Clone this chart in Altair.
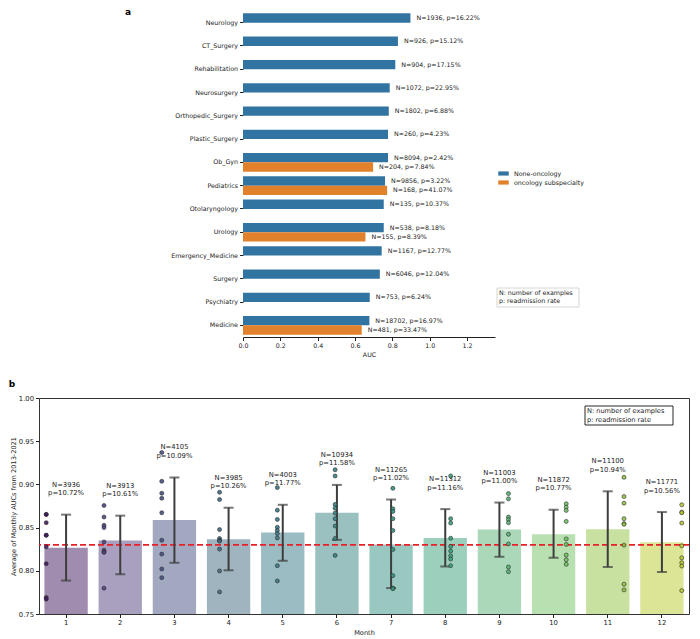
import altair as alt
import pandas as pd

# ---------------- Panel a data ----------------
specialties = ["Neurology", "CT_Surgery", "Rehabilitation", "Neurosurgery",
               "Orthopedic_Surgery", "Plastic_Surgery", "Ob_Gyn", "Pediatrics",
               "Otolaryngology", "Urology", "Emergency_Medicine", "Surgery",
               "Psychiatry", "Medicine"]
auc_non = [0.897, 0.830, 0.816, 0.786, 0.781, 0.777, 0.777, 0.761,
           0.754, 0.754, 0.743, 0.733, 0.679, 0.677]
n_non = [1936, 926, 904, 1072, 1802, 260, 8094, 9856, 135, 538, 1167, 6046, 753, 18702]
p_non = ["16.22", "15.12", "17.15", "22.95", "6.88", "4.23", "2.42", "3.22",
         "10.37", "8.18", "12.77", "12.04", "6.24", "16.97"]

onc_specialties = ["Ob_Gyn", "Pediatrics", "Urology", "Medicine"]
auc_onc = [0.697, 0.772, 0.656, 0.636]
n_onc = [204, 168, 155, 481]
p_onc = ["7.84", "41.07", "8.39", "33.47"]

groups = ["None-oncology", "oncology subspecialty"]
group_colors = ["#3274a1", "#e1812c"]

# ---------------- Panel b data ----------------
months = [1, 2, 3, 4, 5, 6, 7, 8, 9, 10, 11, 12]
month_auc = [0.8266, 0.835, 0.8587, 0.8366, 0.8443, 0.8672,
             0.8305, 0.838, 0.8477, 0.8423, 0.848, 0.8331]
err_lo = [0.7887, 0.796, 0.8093, 0.8006, 0.8116, 0.8358,
          0.780, 0.805, 0.8162, 0.815, 0.8044, 0.7986]
err_hi = [0.865, 0.8638, 0.908, 0.873, 0.8764, 0.8994,
          0.8825, 0.8714, 0.879, 0.8707, 0.892, 0.868]
n_month = [3936, 3913, 4105, 3985, 4003, 10934, 11265, 11312, 11003, 11872, 11100, 11771]
p_month = ["10.72", "10.61", "10.09", "10.26", "11.77", "11.58",
           "11.02", "11.16", "11.00", "10.77", "10.94", "10.56"]
overall_auc = 0.83

yearly_m1 = [0.8653, 0.8653, 0.8557, 0.8412, 0.8412, 0.8277, 0.8082, 0.7691, 0.7672]
yearly_m2 = [0.8756, 0.8622, 0.8526, 0.850, 0.8334, 0.8239, 0.822, 0.8213, 0.7799]
yearly_m3 = [0.9369, 0.9036, 0.8898, 0.884, 0.8672, 0.8354, 0.8193, 0.8021, 0.7921]
yearly_m4 = [0.8909, 0.8825, 0.8477, 0.8374, 0.8354, 0.8343, 0.8251, 0.7998, 0.7756]
yearly_m5 = [0.8963, 0.8702, 0.8595, 0.8503, 0.8466, 0.8431, 0.838, 0.8059, 0.7883]
yearly_m6 = [0.917, 0.9098, 0.8768, 0.8725, 0.8668, 0.8603, 0.8518, 0.8374, 0.8178]
yearly_m7 = [0.8955, 0.8718, 0.8687, 0.8603, 0.8466, 0.8247, 0.7944, 0.780, 0.7793]
yearly_m8 = [0.9098, 0.8603, 0.8553, 0.8377, 0.8282, 0.8228, 0.8174, 0.8136, 0.8059]
yearly_m9 = [0.8894, 0.8833, 0.8622, 0.8592, 0.8557, 0.8423, 0.8311, 0.8044, 0.799]
yearly_m10 = [0.8776, 0.8737, 0.8699, 0.8572, 0.8369, 0.8305, 0.8182, 0.8128, 0.8075]
yearly_m11 = [0.9082, 0.886, 0.8783, 0.8603, 0.8546, 0.8538, 0.8297, 0.7845, 0.7779]
yearly_m12 = [0.8764, 0.8679, 0.8672, 0.8553, 0.8289, 0.815, 0.8093, 0.8055, 0.7771]
yearly = [yearly_m1, yearly_m2, yearly_m3, yearly_m4, yearly_m5, yearly_m6,
          yearly_m7, yearly_m8, yearly_m9, yearly_m10, yearly_m11, yearly_m12]

bar_colors = ["#a08cae", "#a9a0c0", "#a2a8c0", "#a0b4c0", "#9cbcc4", "#9bc0c0",
              "#99c8c0", "#9cd0bc", "#aad8b8", "#b8e0b0", "#c8e0a0", "#dce496"]
point_colors = ["#41195d", "#534181", "#455181", "#416981", "#397989", "#378181",
                "#339181", "#39a179", "#55b171", "#71c161", "#91c141", "#b9c92d"]

FONT = "DejaVu Sans"
TXT = "#222222"

# ---------------- Panel a ----------------
rows = []
for s, a, n, p in zip(specialties, auc_non, n_non, p_non):
    rows.append({"specialty": s, "group": groups[0], "auc": a, "label": f"N={n}, p={p}%"})
for s, a, n, p in zip(onc_specialties, auc_onc, n_onc, p_onc):
    rows.append({"specialty": s, "group": groups[1], "auc": a, "label": f"N={n}, p={p}%"})
dfa = pd.DataFrame(rows)

LEFT_A = 204          # horizontal inset of panel a's plot inside its view
WA, HA = 456, 326

ya = alt.Y("specialty:N", sort=specialties,
           scale=alt.Scale(paddingInner=0.2, paddingOuter=0.1),
           axis=alt.Axis(title=None, labelFontSize=6.3, labelColor=TXT, tickSize=3.5,
                         tickColor="#222222", labelPadding=2, domain=False,
                         offset=-LEFT_A, minExtent=0))
yoa = alt.YOffset("group:N", sort=groups)
xa = alt.X("auc:Q", scale=alt.Scale(domain=[0, 1.35], nice=False, zero=True,
                                    range=[LEFT_A, WA]),
           axis=alt.Axis(title="AUC", values=[0, 0.2, 0.4, 0.6, 0.8, 1.0, 1.2], format=".1f",
                         grid=False, labelFontSize=6.3, labelColor=TXT, titleFontSize=6.3,
                         titleFontWeight="normal", titleColor=TXT, tickSize=3.5,
                         tickColor="#222222", domainColor="#222222", titlePadding=3,
                         labelFlush=False))

base_a = alt.Chart(dfa)
bars_a = base_a.mark_bar().encode(
    x=xa, y=ya, yOffset=yoa,
    color=alt.Color("group:N", scale=alt.Scale(domain=groups, range=group_colors),
                    legend=alt.Legend(title=None, orient="none", legendX=LEFT_A + 255,
                                      legendY=157,
                                      symbolType="M-1,-0.4H1V0.4H-1Z", symbolSize=110,
                                      symbolStrokeWidth=0, labelFontSize=6.3,
                                      labelColor=TXT, labelOffset=5, rowPadding=0)))
text_a = base_a.mark_text(align="left", baseline="middle", dx=6, fontSize=6.3,
                          color=TXT).encode(x=xa, y=ya, yOffset=yoa, text="label:N")

one = pd.DataFrame({"t": ["a"]})
label_a = alt.Chart(one).mark_text(fontSize=9, fontWeight="bold", color="#000000",
                                   align="center", baseline="middle").encode(
    x=alt.value(LEFT_A - 115), y=alt.value(1), text=alt.value("a"))
box_a = alt.Chart(one).mark_rect(fill="white", stroke="#cccccc", strokeWidth=0.8).encode(
    x=alt.value(LEFT_A + 254), x2=alt.value(LEFT_A + 336), y=alt.value(277), y2=alt.value(296))
boxtext_a = alt.Chart(one).mark_text(align="left", baseline="top", fontSize=6.3, color=TXT,
                                     lineBreak="\n", lineHeight=8.3).encode(
    x=alt.value(LEFT_A + 256), y=alt.value(279),
    text=alt.value("N: number of examples\n\u00a0p: readmission rate"))

panel_a = alt.layer(bars_a, text_a, box_a, boxtext_a, label_a).properties(
    width=WA, height=HA, view=alt.ViewBackground(strokeOpacity=0))

# ---------------- Panel b ----------------
dfb = pd.DataFrame({
    "month": months, "auc": month_auc, "lo": err_lo, "hi": err_hi,
    "label": [f"N={n}\np={p}%" for n, p in zip(n_month, p_month)],
})
prow = []
for m, vals in zip(months, yearly):
    for v in vals:
        prow.append({"month": m, "val": v})
dfp = pd.DataFrame(prow)

WB, HB = 650, 216

xb = alt.X("month:O", scale=alt.Scale(paddingInner=0.2, paddingOuter=0.1),
           axis=alt.Axis(title="Month", labelAngle=0, labelFontSize=6.8, labelColor=TXT,
                         titleFontSize=6.6, titleFontWeight="normal", titleColor=TXT,
                         tickSize=3.5, tickColor="#222222", domain=False, titlePadding=3))


def yb(field):
    return alt.Y(field, scale=alt.Scale(domain=[0.75, 1.0], nice=False, zero=False),
                 axis=alt.Axis(title="Average of Monthly AUCs from 2013-2021",
                               values=[0.75, 0.8, 0.85, 0.9, 0.95, 1.0], format=".2f",
                               grid=False, domain=False, labelFontSize=6.8, labelColor=TXT,
                               titleFontSize=6.6, titleFontWeight="normal", titleColor=TXT,
                               tickSize=3.5, tickColor="#222222", minExtent=20,
                               maxExtent=20, titlePadding=3))


base_b = alt.Chart(dfb)
bars_b = base_b.mark_bar(clip=True).encode(
    x=xb, y=yb("auc:Q"),
    color=alt.Color("month:O", scale=alt.Scale(domain=months, range=bar_colors), legend=None))
ref_line = alt.Chart(pd.DataFrame({"ref": [overall_auc]})).mark_rule(
    color="#e8202a", strokeDash=[6, 3], strokeWidth=1.6).encode(y=yb("ref:Q"))
err_rule = base_b.mark_rule(color="#3d3d3d", strokeWidth=2).encode(
    x=xb, y=yb("hi:Q"), y2="lo:Q")
cap_hi = base_b.mark_tick(color="#3d3d3d", size=10, thickness=2).encode(x=xb, y=yb("hi:Q"))
cap_lo = base_b.mark_tick(color="#3d3d3d", size=10, thickness=2).encode(x=xb, y=yb("lo:Q"))
text_b = base_b.mark_text(align="center", baseline="bottom", dy=-27, fontSize=6.8,
                          color=TXT, lineBreak="\n", lineHeight=8.5).encode(
    x=xb, y=yb("hi:Q"), text="label:N")

# yearly points, dodged by month inside the 0.8-wide band (12 slots)
points = alt.Chart(dfp).transform_calculate(
    xpos="datum.month + (datum.month - 6.5) * 0.8 / 12"
).mark_circle(size=16, stroke="#2b2b2b", strokeWidth=0.6, fillOpacity=0.9).encode(
    x=alt.X("xpos:Q", scale=alt.Scale(domain=[0.5, 12.5], nice=False, zero=False), axis=None),
    y=yb("val:Q"),
    fill=alt.Fill("month:O", scale=alt.Scale(domain=months, range=point_colors), legend=None))

box_b = alt.Chart(one).mark_rect(fill="white", stroke="#111111", strokeWidth=0.9).encode(
    x=alt.value(WB - 104), x2=alt.value(WB - 16), y=alt.value(8), y2=alt.value(27))
boxtext_b = alt.Chart(one).mark_text(align="left", baseline="top", fontSize=6.6, color=TXT,
                                     lineBreak="\n", lineHeight=8.5).encode(
    x=alt.value(WB - 102), y=alt.value(10),
    text=alt.value("N: number of examples\n\u00a0p: readmission rate"))
label_b = alt.Chart(one).mark_text(fontSize=9, fontWeight="bold", color="#000000",
                                   align="center", baseline="middle").encode(
    x=alt.value(-27), y=alt.value(-14), text=alt.value("b"))

inner_b = alt.layer(bars_b, ref_line, err_rule, cap_hi, cap_lo, text_b)
panel_b = alt.layer(inner_b, points, box_b, boxtext_b, label_b).resolve_scale(
    x="independent").properties(
    width=WB, height=HB, view=alt.ViewBackground(stroke="#333333", strokeWidth=1))

chart = alt.vconcat(panel_a, panel_b, spacing=20).resolve_scale(
    color="independent", fill="independent"
).properties(padding=0).configure(font=FONT).configure_view(stroke="#333333")

chart.save("out.html", embed_options={"renderer": "svg", "actions": False})
